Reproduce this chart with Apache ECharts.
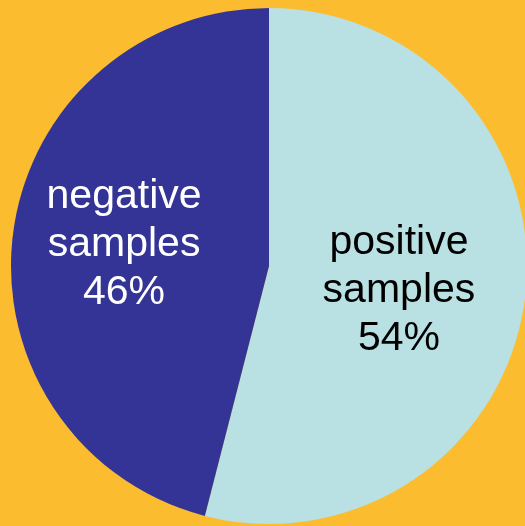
<!DOCTYPE html>
<html>
<head>
<meta charset="utf-8">
<style>
  html, body { margin: 0; padding: 0; background: #FBBC2F; }
  #chart { width: 525px; height: 526px; }
</style>
<script src="https://cdn.jsdelivr.net/npm/echarts@6/dist/echarts.min.js"></script>
</head>
<body>
<div id="chart"></div>
<script>
// Share of samples by class
const categories = ['positive\nsamples', 'negative\nsamples'];
const shares = [54, 46];
const sliceColors = ['#B9E0E3', '#343496'];
const labelColors = ['#000000', '#FFFFFF'];
// small nudges for each label relative to the slice midpoint
const labelShift = [[-1, 8], [-14, -5]];

const chart = echarts.init(document.getElementById('chart'), null, { renderer: 'canvas' });

chart.setOption({
  backgroundColor: '#FBBC2F',
  animation: false,
  series: [{
    type: 'pie',
    center: [269, 266],
    radius: [0, 258],
    startAngle: 90,
    clockwise: true,
    avoidLabelOverlap: false,
    label: {
      show: true,
      position: 'inside',
      fontFamily: 'Liberation Sans, Arial, sans-serif',
      fontSize: 41,
      lineHeight: 48,
      align: 'center',
      formatter: p => p.name + '\n' + p.value + '%'
    },
    labelLine: { show: false },
    labelLayout: p => ({ dx: labelShift[p.dataIndex][0], dy: labelShift[p.dataIndex][1] }),
    itemStyle: { borderWidth: 0 },
    emphasis: { disabled: true },
    data: categories.map((name, i) => ({
      name: name,
      value: shares[i],
      itemStyle: { color: sliceColors[i] },
      label: { color: labelColors[i] }
    }))
  }]
});
</script>
</body>
</html>
